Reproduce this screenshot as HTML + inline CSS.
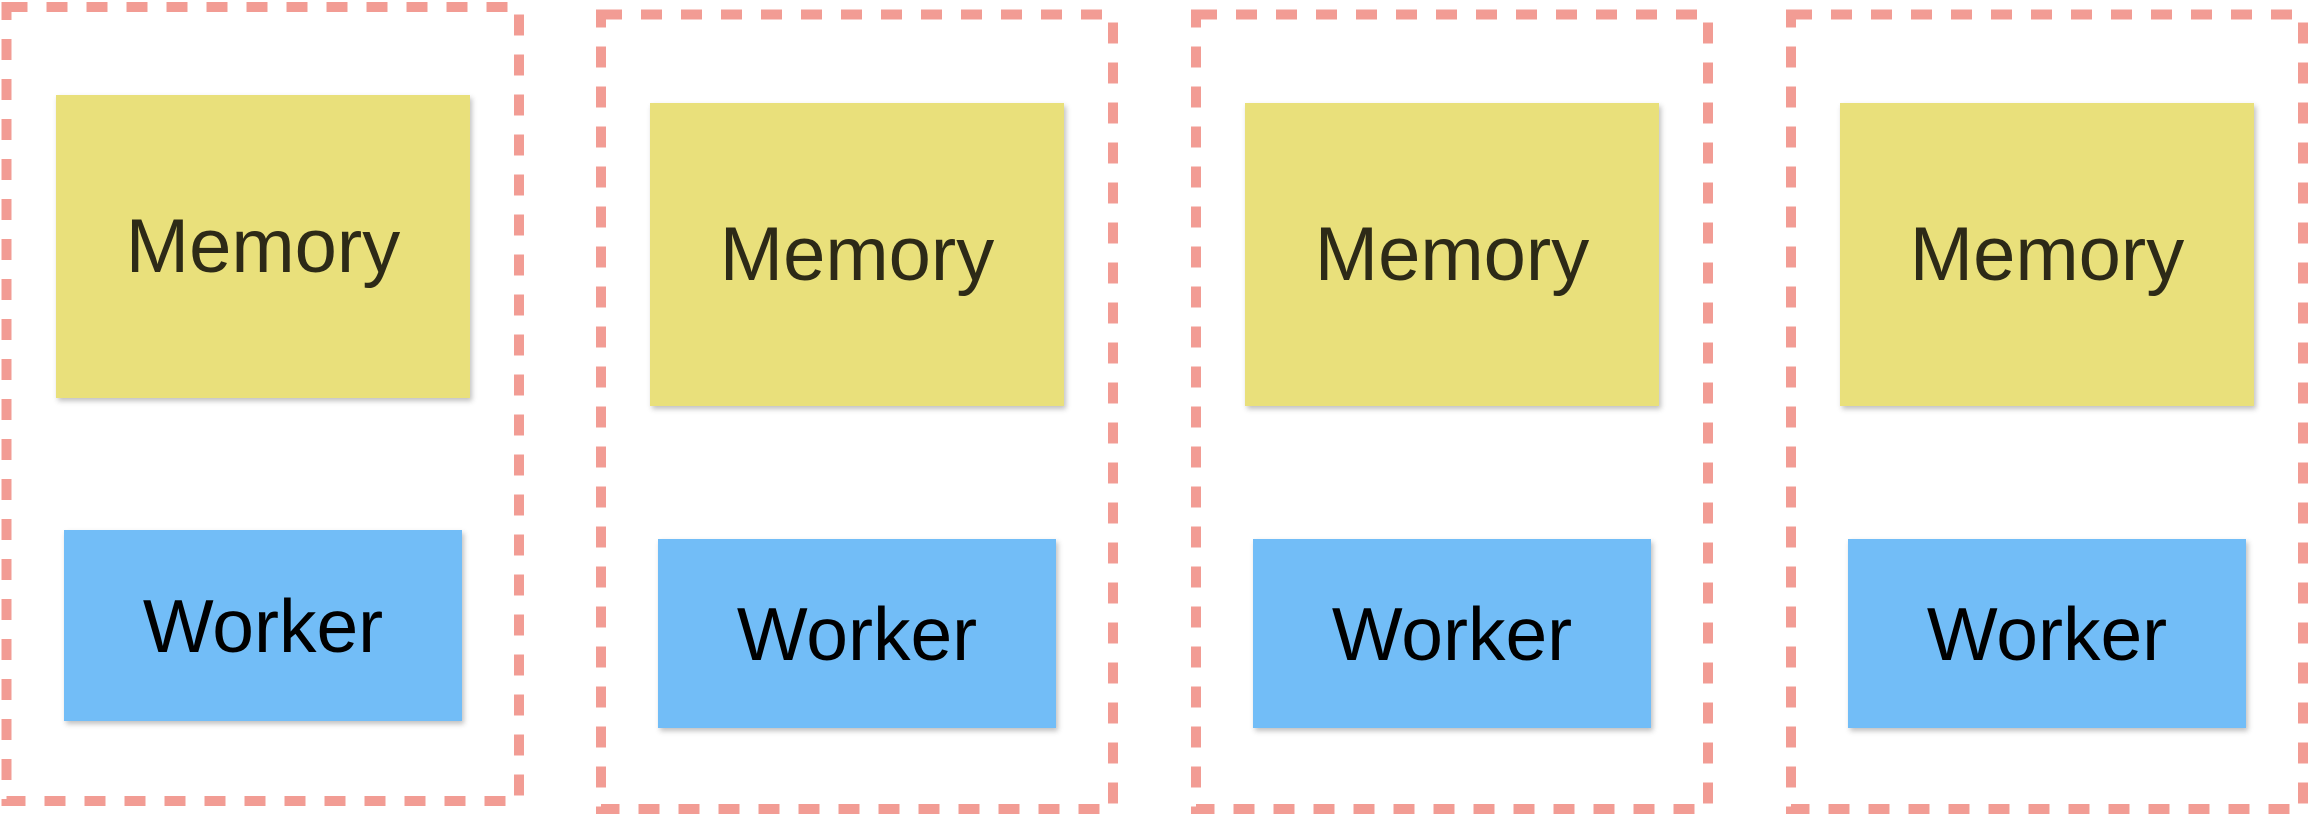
<!DOCTYPE html>
<html><head><style>
html,body{margin:0;padding:0;background:#fff;}
body{width:2310px;height:816px;position:relative;overflow:hidden;font-family:"Liberation Sans",Arial,sans-serif;}
.m,.w{position:absolute;display:flex;align-items:center;justify-content:center;box-shadow:2px 3px 5px rgba(0,0,0,0.25);}
.m{background:#e9e07b;color:#2d2a17;font-size:76px;}
.w{background:#72bdf7;color:#000;font-size:75px;}
svg{position:absolute;left:0;top:0;}
</style></head><body>
<svg width="2310" height="816">
<g fill="none" stroke="#f29c94" stroke-width="10" stroke-dasharray="21 19">
<rect x="6.5" y="7" width="512.5" height="794"/>
<rect x="601" y="14.5" width="512" height="794.5"/>
<rect x="1196" y="14.5" width="512" height="794.5"/>
<rect x="1791" y="14.5" width="512" height="794.5"/>
</g>
</svg>
<div class="m" style="left:56px;top:95px;width:414px;height:303px;">Memory</div>
<div class="w" style="left:64px;top:530px;width:398px;height:191px;">Worker</div>
<div class="m" style="left:650px;top:103px;width:414px;height:303px;">Memory</div>
<div class="w" style="left:658px;top:539px;width:398px;height:189px;">Worker</div>
<div class="m" style="left:1245px;top:103px;width:414px;height:303px;">Memory</div>
<div class="w" style="left:1253px;top:539px;width:398px;height:189px;">Worker</div>
<div class="m" style="left:1840px;top:103px;width:414px;height:303px;">Memory</div>
<div class="w" style="left:1848px;top:539px;width:398px;height:189px;">Worker</div>
</body></html>
